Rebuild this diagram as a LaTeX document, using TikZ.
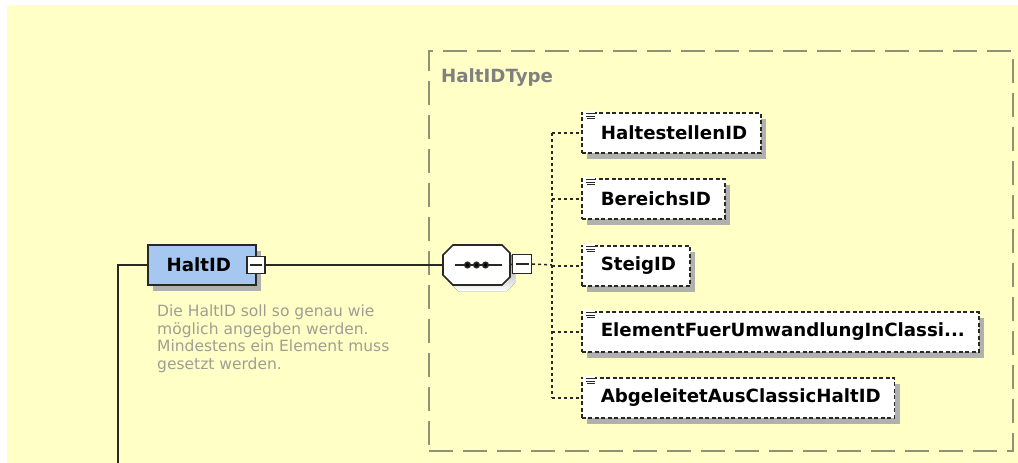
\documentclass[tikz,border=0pt]{standalone}
\usepackage{fontspec}
\setmainfont{DejaVu Sans}
\usetikzlibrary{shadows}

\definecolor{paper}{RGB}{255,255,198}
\definecolor{frame}{RGB}{145,145,120}
\definecolor{elemblue}{RGB}{166,200,240}
\definecolor{note}{RGB}{158,158,150}
\definecolor{typegray}{RGB}{128,128,128}
\definecolor{shade}{RGB}{176,176,172}
\definecolor{wire}{RGB}{40,40,36}

\begin{document}
\begin{tikzpicture}[x=1pt,y=-1pt,
  bold/.style={font=\fontsize{18.2}{20}\selectfont\bfseries},
  wire/.style={draw=wire,line width=1.6pt},
  tie/.style={draw=wire,line width=1.5pt,dash pattern=on 3pt off 3pt},
  shadowed/.style={drop shadow={shadow xshift=5pt,shadow yshift=-6pt,fill=shade,opacity=1}},
  elem/.style={bold,draw=wire,line width=1.6pt,fill=elemblue,minimum height=40pt,
    minimum width=108pt,anchor=west,inner sep=0pt,shadowed},
  childbox/.style={bold,draw=wire,line width=1.6pt,dash pattern=on 4pt off 2.5pt,fill=white,
    minimum height=40pt,anchor=west,inner xsep=14pt,inner ysep=0pt,shadowed},
  minusbox/.style={draw=wire,line width=1.4pt,fill=white,minimum width=18pt,minimum height=17pt,inner sep=0pt,
    path picture={\draw[wire,line width=1.2pt]
      ([xshift=3pt]path picture bounding box.west) -- ([xshift=-3pt]path picture bounding box.east);}},
  seqarea/.style={minimum width=67pt,minimum height=40pt,inner sep=0pt},
  typebox/.style={draw=frame,line width=2pt,dash pattern=on 24pt off 10pt,
    anchor=north west,inner sep=0pt},
  notetext/.style={text=note,align=left,anchor=north west,inner sep=0pt,
    font=\fontsize{15.5}{17.5}\selectfont}
]
% canvas
\fill[white] (0,0) rectangle (1018,463);
\fill[paper] (7,5) rectangle (1018,463);
\useasboundingbox (0,0) rectangle (1018,463);

% complex type frame
\node[typebox,minimum width=584pt,minimum height=400pt] (ty) at (428,50) {};
\node[bold,text=typegray,anchor=west,inner sep=0pt] (tyname) at (441,78) {HaltIDType};

% the element and its documentation
\node[elem] (halt) at (147,265) {HaltID\hspace*{6pt}};
\node[minusbox] (hm) at (256,265) {};
\node[notetext] (doc) at (157,305)
  {Die HaltID soll so genau wie\\möglich angegben werden.\\Mindestens ein Element muss\\gesetzt werden.};

% sequence compositor: octagon with chamfered corners
\node[seqarea] (seq) at (476.5,265) {};
\begin{scope}[shift={(seq.center)}]
  \fill[shade] (-23.5+5,-20+6) -- (25.5+5,-20+6) -- (33.5+5,-12+6) -- (33.5+5,12+6)
    -- (25.5+5,20+6) -- (-23.5+5,20+6) -- (-33.5+5,10+6) -- (-33.5+5,-10+6) -- cycle;
  \draw[wire,line width=1.6pt,fill=white] (-23.5,-20) -- (25.5,-20) -- (33.5,-12) -- (33.5,12)
    -- (25.5,20) -- (-23.5,20) -- (-33.5,10) -- (-33.5,-10) -- cycle;
  \draw[wire,line width=1.4pt] (-22,0) -- (25,0);
  \foreach \dx in {-9,0,9} \fill[wire] (\dx,0) circle (2.7pt);
\end{scope}
\node[minusbox,minimum width=19pt,minimum height=19pt] (sm) at (522,264) {};

% child elements
\node[childbox] (c1) at (581,133) {\hspace*{5pt}HaltestellenID};
\node[childbox] (c2) at (581,199) {\hspace*{5pt}BereichsID};
\node[childbox] (c3) at (581,266) {\hspace*{5pt}SteigID};
\node[childbox] (c4) at (581,332) {\hspace*{5pt}ElementFuerUmwandlungInClassi...};
\node[childbox] (c5) at (581,398) {\hspace*{5pt}AbgeleitetAusClassicHaltID};

% element icons in the top-left corners
\foreach \n in {c1,c2,c3,c4,c5}{
  \begin{scope}[shift={(\n.north west)}]
    \fill[white] (2,-1) rectangle (14,9);
    \draw[wire,line width=1pt] (5,1.5) -- (14,1.5) (5,4) -- (14,4) (6,6.5) -- (14,6.5);
  \end{scope}
}

% connectors
\coordinate (down) at (118,463);
\coordinate (bus) at (552,265);
\draw[wire] (down) |- (halt.west);
\draw[wire] (hm.east) -- (seq.west);
\draw[wire,line width=1.4pt] (seq.east) -- (sm.west);
\draw[tie] (sm.east) -- (bus);
\draw[tie] (c1.west -| bus) -- (c5.west -| bus);
\foreach \n in {c1,c2,c3,c4,c5} \draw[tie] (\n.west -| bus) -- (\n.west);
\end{tikzpicture}
\end{document}
